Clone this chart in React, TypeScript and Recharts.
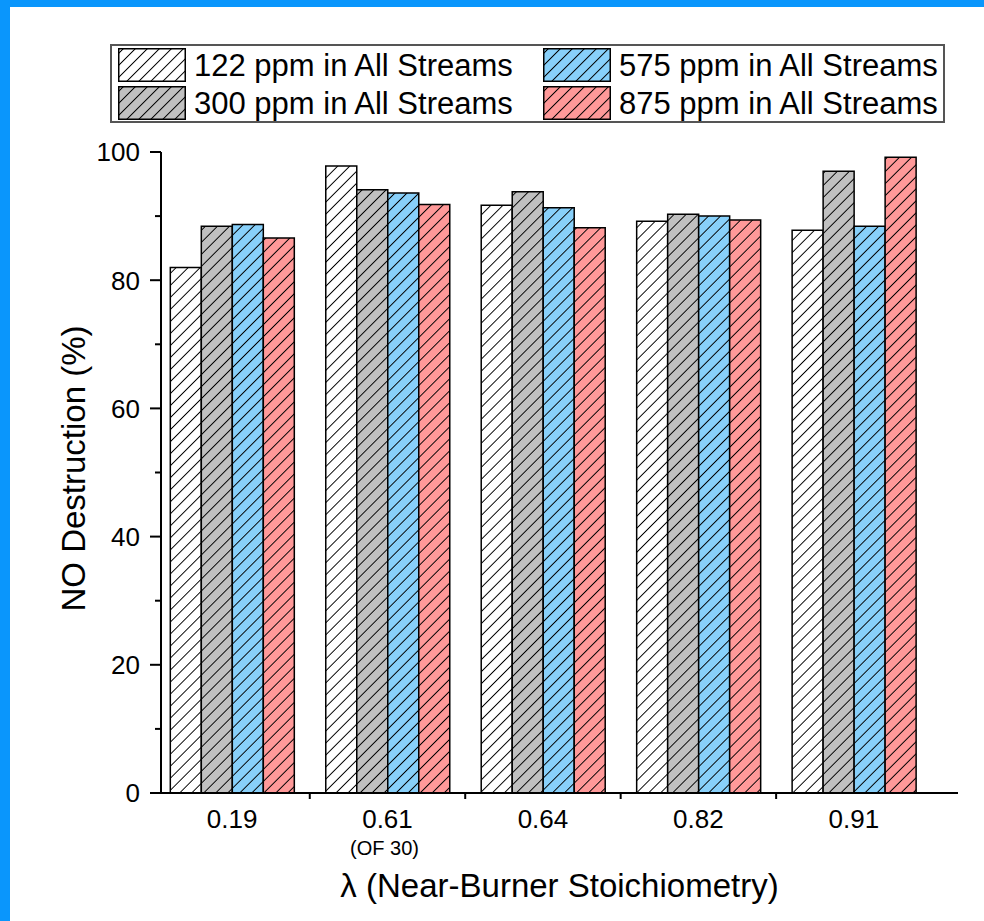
import { BarChart, Bar, XAxis, YAxis, Legend, Label } from "recharts"

// values (NO destruction, %)
const categories = ["0.19", "0.61", "0.64", "0.82", "0.91"]
const ppm122 = [82.0, 97.8, 91.7, 89.2, 87.8]
const ppm300 = [88.4, 94.1, 93.8, 90.3, 97.0]
const ppm575 = [88.7, 93.6, 91.3, 90.0, 88.4]
const ppm875 = [86.6, 91.8, 88.2, 89.4, 99.2]
const subLabels: Record<string, string> = { "0.61": "(OF 30)" }

const yTicks = [0, 10, 20, 30, 40, 50, 60, 70, 80, 90, 100]
const xTicks = [1, 1.5, 2, 2.5, 3, 3.5, 4, 4.5, 5]

const FONT = "Arial, 'Liberation Sans', Helvetica, sans-serif"

const series = [
  { key: "s122", name: "122 ppm in All Streams", color: "#ffffff" },
  { key: "s300", name: "300 ppm in All Streams", color: "#c0c0c0" },
  { key: "s575", name: "575 ppm in All Streams", color: "#88d0fa" },
  { key: "s875", name: "875 ppm in All Streams", color: "#ff9999" },
]

const data = categories.map((c, i) => ({
  x: i + 1,
  name: c,
  s122: ppm122[i],
  s300: ppm300[i],
  s575: ppm575[i],
  s875: ppm875[i],
}))

function XTick({ x, y, payload }: any) {
  const v = payload.value
  if (!Number.isInteger(v)) {
    return <line x1={x} x2={x} y1={y} y2={y + 6} stroke="#000" strokeWidth={2} />
  }
  const name = categories[v - 1]
  return (
    <g>
      <text x={x} y={y + 35} textAnchor="middle" fontSize={26} fontFamily={FONT} fill="#000">
        {name}
      </text>
      {subLabels[name] && (
        <text x={x - 3} y={y + 62} textAnchor="middle" fontSize={20} fontFamily={FONT} fill="#000">
          {subLabels[name]}
        </text>
      )}
    </g>
  )
}

function YTick({ x, y, payload }: any) {
  const v = payload.value
  const major = v % 20 === 0
  return (
    <g>
      <line x1={x - (major ? 11 : 6)} x2={x} y1={y} y2={y} stroke="#000" strokeWidth={2} />
      {major && (
        <text x={x - 21} y={y} dy="0.36em" textAnchor="end" fontSize={26} fontFamily={FONT} fill="#000">
          {v}
        </text>
      )}
    </g>
  )
}

function Swatch({ id }: { id: string }) {
  return (
    <svg width={68} height={34} style={{ display: "block", flex: "none" }}>
      <rect x={0.75} y={0.75} width={66.5} height={32.5} fill={`url(#hatch-${id})`} stroke="#000" strokeWidth={1.5} />
    </svg>
  )
}

function LegendBox() {
  return (
    <div
      style={{
        width: 835,
        height: 79,
        boxSizing: "border-box",
        border: "2px solid #555",
        background: "#fff",
        padding: "2px 0 0 6px",
        display: "grid",
        gridTemplateColumns: "425px 400px",
        gridTemplateRows: "38px 38px",
        gridAutoFlow: "column",
        fontFamily: FONT,
        fontSize: 31,
        color: "#000",
      }}
    >
      {series.map((s) => (
        <div key={s.key} style={{ display: "flex", alignItems: "center", height: 34, lineHeight: 1 }}>
          <Swatch id={s.key} />
          <span style={{ marginLeft: 8, whiteSpace: "nowrap" }}>{s.name}</span>
        </div>
      ))}
    </div>
  )
}

function YTitle(props: any) {
  const vb = props.viewBox || { y: 145, height: 641 }
  const cx = 63.5
  const cy = vb.y + vb.height / 2 - 4
  return (
    <text
      x={cx}
      y={cy}
      dy="0.35em"
      transform={`rotate(-90 ${cx} ${cy})`}
      textAnchor="middle"
      fontSize={33}
      fontFamily={FONT}
      fill="#000"
    >
      NO Destruction (%)
    </text>
  )
}

export default function App() {
  return (
    <div
      style={{
        position: "absolute",
        left: 0,
        top: 0,
        width: 984,
        height: 921,
        background: "#0a96fc",
      }}
    >
      <div style={{ position: "absolute", left: 10, top: 7, width: 974, height: 914, background: "#fff" }}>
        <BarChart
          width={974}
          height={914}
          data={data}
          barGap={0}
          margin={{ top: 145, right: 26, bottom: 0, left: 0 }}
        >
          <defs>
            {series.map((s) => (
              <pattern
                key={s.key}
                id={`hatch-${s.key}`}
                patternUnits="userSpaceOnUse"
                width={8.5}
                height={8.5}
                patternTransform="rotate(45)"
              >
                <rect width={8.5} height={8.5} fill={s.color} />
                <line x1={4.25} y1={0} x2={4.25} y2={8.5} stroke="#000" strokeWidth={1} />
              </pattern>
            ))}
          </defs>
          <XAxis
            xAxisId="main"
            type="number"
            dataKey="x"
            domain={[0.543, 5.67]}
            allowDataOverflow
            ticks={xTicks}
            interval={0}
            tickSize={0}
            tickMargin={0}
            tickLine={false}
            tick={<XTick />}
            axisLine={{ stroke: "#000", strokeWidth: 2 }}
            height={128}
          >
            <Label
              value="λ (Near-Burner Stoichiometry)"
              position="insideBottom"
              offset={24}
              fontSize={33}
              fontFamily={FONT}
              fill="#000"
            />
          </XAxis>
          <XAxis
            xAxisId="top"
            orientation="top"
            type="number"
            domain={[0, 1]}
            height={0}
            tick={false}
            tickLine={false}
            axisLine={{ stroke: "#000", strokeWidth: 2 }}
          />
          <YAxis
            yAxisId="left"
            type="number"
            domain={[0, 100]}
            ticks={yTicks}
            interval={0}
            tickSize={0}
            tickMargin={0}
            tickLine={false}
            tick={<YTick />}
            axisLine={{ stroke: "#000", strokeWidth: 2 }}
            width={151}
          >
            <Label content={<YTitle />} />
          </YAxis>
          <YAxis
            yAxisId="right"
            orientation="right"
            type="number"
            domain={[0, 100]}
            width={0}
            tick={false}
            tickLine={false}
            axisLine={{ stroke: "#000", strokeWidth: 2 }}
          />
          <Legend
            layout="horizontal"
            verticalAlign="middle"
            align="center"
            content={<LegendBox />}
            wrapperStyle={{ top: 37, left: 100, width: 835, height: 79 }}
          />
          {series.map((s) => (
            <Bar
              key={s.key}
              dataKey={s.key}
              name={s.name}
              xAxisId="main"
              yAxisId="left"
              fill={`url(#hatch-${s.key})`}
              stroke="#000"
              strokeWidth={1.5}
              barSize={31}
              isAnimationActive={false}
            />
          ))}
        </BarChart>
      </div>
    </div>
  )
}
